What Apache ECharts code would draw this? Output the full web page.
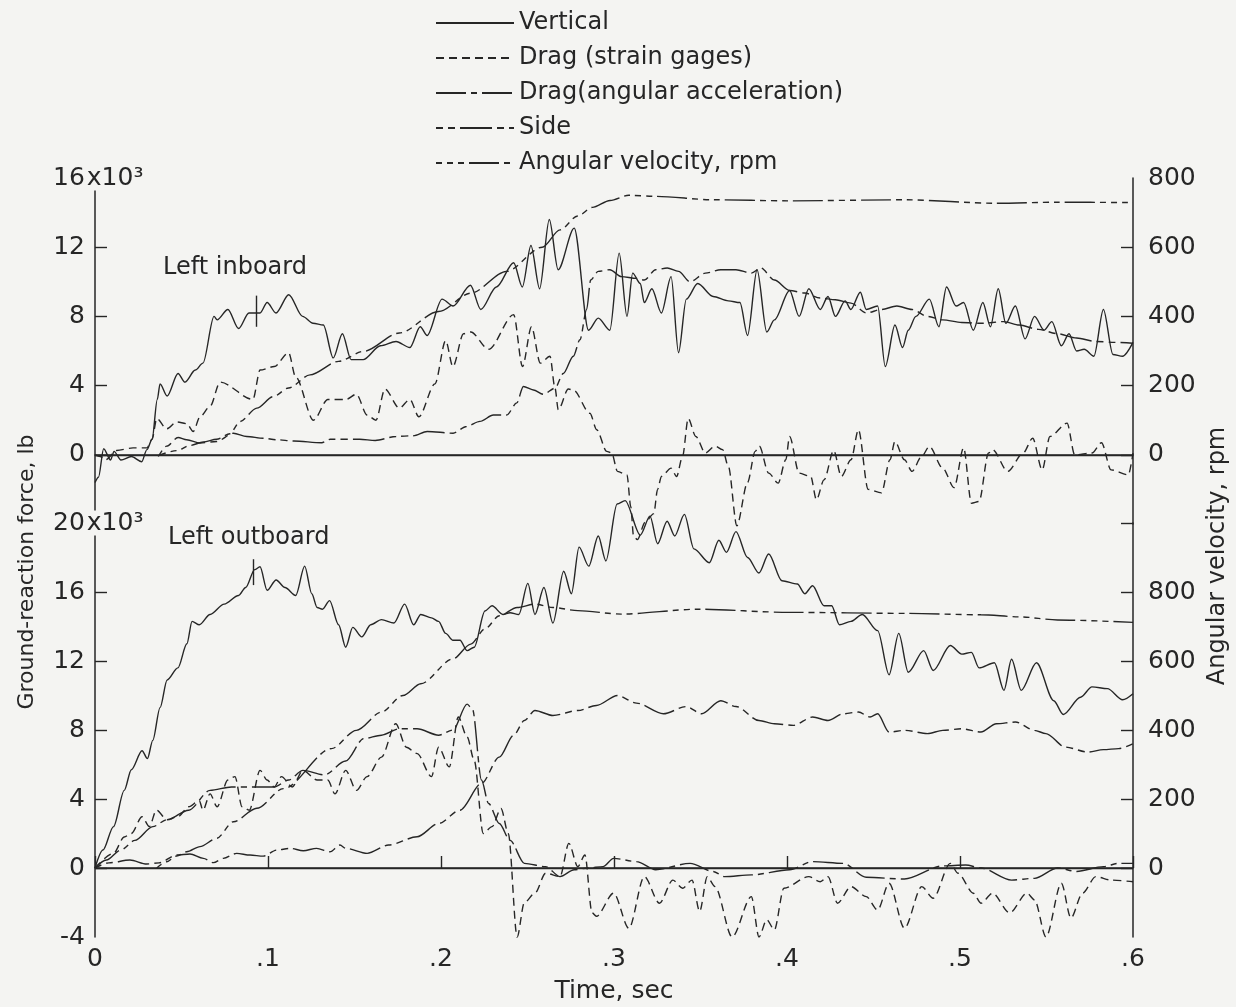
<!DOCTYPE html>
<html>
<head>
<meta charset="utf-8">
<script src="https://cdn.jsdelivr.net/npm/echarts@6/dist/echarts.min.js"></script>
<style>
  html, body { margin: 0; padding: 0; background: #f4f4f2; }
  #chart { width: 1236px; height: 1007px; }
</style>
</head>
<body>
<div id="chart"></div>
<script>
// ---- Tick labels -------------------------------------------------------
const timeTicks = [0, 0.1, 0.2, 0.3, 0.4, 0.5, 0.6];
const timeTickLabels = ['0', '.1', '.2', '.3', '.4', '.5', '.6'];
const inboardForceTicks = [0, 4, 8, 12, 16];
const inboardForceLabels = ['0', '4', '8', '12', '16x10³'];
const outboardForceTicks = [-4, 0, 4, 8, 12, 16, 20];
const outboardForceLabels = ['-4', '0', '4', '8', '12', '16', '20x10³'];
const rpmTicks = [0, 200, 400, 600, 800];
const rpmLabels = ['0', '200', '400', '600', '800'];

// ---- Left inboard wheel: [time s, force 10^3 lb] / [time s, rpm] --------
const inboardVertical = [
  [0.000,-1.6],[0.002,-1.3],[0.005,0.35],[0.009,-0.3],[0.011,0.2],[0.015,-0.3],[0.021,-0.1],
  [0.027,-0.4],[0.030,0.3],[0.033,0.9],[0.036,3.2],[0.0376,4.1],[0.0417,3.4],[0.048,4.7],
  [0.052,4.2],[0.058,4.9],[0.0624,5.3],[0.0688,8.0],[0.0706,7.8],[0.0768,8.4],[0.083,7.3],
  [0.089,8.2],[0.0954,8.2],[0.0995,8.8],[0.1046,8.2],[0.112,9.25],[0.120,8.0],[0.126,7.6],
  [0.132,7.5],[0.1377,5.6],[0.143,7.0],[0.148,5.5],[0.155,5.5],[0.165,6.3],[0.174,6.55],
  [0.182,6.2],[0.188,7.4],[0.192,6.9],[0.2006,9.0],[0.207,8.6],[0.217,9.8],[0.223,8.4],
  [0.232,9.7],[0.242,11.1],[0.247,9.7],[0.252,12.1],[0.257,9.6],[0.2626,13.6],[0.2677,10.7],
  [0.277,13.1],[0.2853,7.2],[0.2909,7.9],[0.2976,7.2],[0.303,11.66],[0.3075,8.0],[0.3108,10.5],
  [0.3152,9.9],[0.3175,8.8],[0.3219,9.6],[0.3274,8.2],[0.333,10.3],[0.3373,5.9],[0.3418,9.0],
  [0.3484,9.9],[0.3573,9.15],[0.3661,8.9],[0.3728,8.8],[0.3772,6.9],[0.3827,10.7],[0.3883,7.1],
  [0.3927,7.8],[0.4015,9.5],[0.407,8.0],[0.4126,9.6],[0.4192,8.4],[0.4237,9.15],[0.428,8.0],
  [0.4336,8.9],[0.4369,8.4],[0.4424,9.4],[0.4458,8.4],[0.4524,8.6],[0.4568,5.1],[0.4624,7.5],
  [0.4668,6.2],[0.4701,7.2],[0.4745,8.0],[0.4823,9.0],[0.4878,7.4],[0.4922,9.7],[0.4977,8.6],
  [0.5021,8.8],[0.5077,7.2],[0.5132,8.8],[0.5176,7.4],[0.5221,9.6],[0.5265,7.6],[0.532,8.6],
  [0.5376,6.7],[0.5431,8.0],[0.5486,7.2],[0.5531,7.7],[0.5586,6.3],[0.563,7.0],[0.5674,6.0],
  [0.5718,6.1],[0.5774,5.7],[0.5829,8.4],[0.5884,5.8],[0.594,5.7],[0.6,6.5]
];
const inboardDragGages = [
  [0.000,0.0],[0.003,-0.1],[0.006,-0.3],[0.0125,0.25],[0.022,0.4],[0.030,0.4],[0.033,0.9],
  [0.0357,2.1],[0.0414,1.5],[0.0472,1.9],[0.053,1.8],[0.0568,1.35],[0.0607,2.2],[0.0665,2.8],
  [0.0723,4.2],[0.0913,3.2],[0.0954,4.9],[0.1036,5.1],[0.1119,5.9],[0.116,4.5],[0.1263,2.0],
  [0.1346,3.2],[0.145,3.2],[0.1511,3.5],[0.1573,2.3],[0.1624,2.0],[0.1676,3.8],[0.1759,2.7],
  [0.182,3.2],[0.1872,2.2],[0.1965,4.1],[0.2027,6.6],[0.2069,5.1],[0.213,7.0],[0.2172,7.1],
  [0.2275,6.1],[0.242,8.1],[0.2471,5.1],[0.2523,7.4],[0.2574,5.3],[0.263,5.7],[0.2659,3.85],
  [0.2678,2.6],[0.2736,3.8],[0.2765,3.75],[0.2861,2.4],[0.29,1.45],[0.2958,0.2],[0.2987,0.1],
  [0.302,-0.96],[0.3075,-1.16],[0.3097,-3.0],[0.3113,-4.7],[0.3135,-4.9],[0.318,-3.9],
  [0.323,-3.4],[0.3252,-2.0],[0.3274,-1.25],[0.333,-0.77],[0.3362,-1.25],[0.3396,-0.1],
  [0.3429,2.1],[0.3473,1.06],[0.3528,0.1],[0.3584,0.5],[0.3628,0.3],[0.3661,-0.67],[0.371,-4.1],
  [0.3772,-1.6],[0.3816,0.2],[0.384,0.5],[0.3894,-1.06],[0.3949,-1.64],[0.3993,-0.29],
  [0.4015,1.06],[0.407,-1.06],[0.4137,-1.25],[0.417,-2.6],[0.4214,-1.45],[0.427,0.25],
  [0.4314,-1.25],[0.437,-0.29],[0.4413,1.45],[0.4469,-2.0],[0.4546,-2.2],[0.4595,-0.29],
  [0.4624,0.77],[0.4679,-0.29],[0.4723,-0.96],[0.4778,-0.1],[0.4823,0.48],[0.49,-0.77],
  [0.4966,-1.9],[0.5021,0.4],[0.5066,-2.8],[0.511,-2.7],[0.5165,0.1],[0.5188,0.3],[0.5276,-0.96],
  [0.5365,0.1],[0.542,0.96],[0.5475,-0.87],[0.552,1.06],[0.5619,1.83],[0.5663,0.0],[0.5763,0.1],
  [0.5818,0.7],[0.5873,-0.87],[0.5973,-1.16],[0.6,0.1]
];
const inboardSide = [
  [0.0366,-0.1],[0.0414,0.5],[0.048,1.0],[0.053,0.87],[0.0607,0.68],[0.0703,0.77],[0.08,1.25],
  [0.0877,1.06],[0.0973,0.96],[0.105,0.87],[0.115,0.8],[0.131,0.7],[0.136,0.9],[0.153,0.9],
  [0.162,0.83],[0.174,1.06],[0.184,1.1],[0.192,1.35],[0.207,1.25],[0.2148,1.64],[0.2225,1.93],
  [0.2303,2.3],[0.238,2.3],[0.2438,3.0],[0.2476,3.95],[0.2534,3.75],[0.2591,3.5],[0.2659,3.85],
  [0.2707,4.7],[0.2765,5.7],[0.2803,6.65],[0.2842,8.4],[0.2865,10.1],[0.2909,10.6],[0.2976,10.7],
  [0.3042,10.3],[0.313,10.2],[0.3175,10.1],[0.3241,10.7],[0.3308,10.8],[0.3373,10.6],[0.344,10.0],
  [0.3528,10.5],[0.3617,10.7],[0.3705,10.7],[0.3794,10.5],[0.3849,10.8],[0.3927,10.1],[0.4015,9.5],
  [0.4103,9.35],[0.4192,9.06],[0.428,8.96],[0.437,8.77],[0.4458,8.2],[0.4546,8.4],[0.4635,8.6],
  [0.4723,8.4],[0.4812,8.0],[0.49,7.8],[0.501,7.65],[0.5121,7.6],[0.5254,7.7],[0.5342,7.5],
  [0.5453,7.25],[0.5564,7.0],[0.5674,6.75],[0.5785,6.55],[0.5895,6.5],[0.6,6.45]
];
const inboardRpm = [
  [0.0376,0],[0.0472,12],[0.0549,27],[0.0626,37],[0.0703,45],[0.078,61],[0.0838,96],[0.0935,135],
  [0.103,168],[0.1119,193],[0.1243,231],[0.1408,270],[0.1553,299],[0.1759,352],[0.1986,414],
  [0.2172,467],[0.2378,530],[0.2585,600],[0.2688,650],[0.279,690],[0.2875,715],[0.2977,735],
  [0.3086,750],[0.3241,747],[0.3573,737],[0.4015,734],[0.4679,737],[0.521,727],[0.5564,730],[0.6,729]
];
// time-marker stroke drawn across the vertical-force trace
const inboardTimeMark = [[0.093, 7.4], [0.093, 9.2]];

// ---- Left outboard wheel --------------------------------------------------
const outboardVertical = [
  [0.000,0.0],[0.0046,1.04],[0.0107,2.4],[0.0169,4.5],[0.021,5.7],[0.0272,6.8],[0.0303,6.34],
  [0.0334,7.4],[0.0376,9.3],[0.0417,10.9],[0.0479,11.6],[0.0531,13.0],[0.0561,14.3],[0.0603,14.1],
  [0.0665,14.7],[0.0747,15.3],[0.083,15.8],[0.0871,16.26],[0.0923,17.3],[0.0954,17.46],[0.0995,16.1],
  [0.1047,16.7],[0.1098,16.26],[0.116,15.8],[0.1212,17.5],[0.1253,15.9],[0.1284,15.1],[0.1315,15.0],
  [0.1356,15.5],[0.1408,14.1],[0.1449,12.8],[0.149,13.95],[0.1542,13.4],[0.1594,14.1],[0.1656,14.4],
  [0.1728,14.2],[0.179,15.3],[0.1842,14.1],[0.1883,14.7],[0.1945,14.5],[0.1986,14.3],[0.2027,13.6],
  [0.2069,13.2],[0.211,13.2],[0.2151,12.6],[0.2192,12.8],[0.2254,14.9],[0.2295,15.2],[0.2358,14.7],
  [0.2399,14.8],[0.245,14.7],[0.2502,16.5],[0.2543,14.7],[0.2595,16.26],[0.2647,14.2],[0.2709,17.2],
  [0.2754,15.9],[0.2798,18.6],[0.2854,17.5],[0.2909,19.25],[0.2953,17.8],[0.3018,21.1],[0.3064,21.3],
  [0.3152,19.3],[0.3208,20.4],[0.3252,18.8],[0.3307,20.1],[0.3351,19.25],[0.3407,20.5],[0.3462,18.5],
  [0.3551,17.7],[0.3606,19.0],[0.365,18.3],[0.3705,19.5],[0.3772,18.0],[0.3838,17.1],[0.3894,18.2],
  [0.3971,16.65],[0.406,16.46],[0.4103,15.9],[0.4148,16.36],[0.4214,15.2],[0.4258,15.2],[0.4303,14.1],
  [0.437,14.3],[0.4435,14.7],[0.4524,13.76],[0.459,11.2],[0.4646,13.6],[0.4701,11.35],[0.479,12.6],
  [0.4845,11.45],[0.4944,12.9],[0.501,12.4],[0.5066,12.5],[0.511,11.6],[0.5199,11.9],[0.5254,10.3],
  [0.5298,12.1],[0.5354,10.3],[0.5442,11.9],[0.5542,9.7],[0.5597,8.9],[0.5697,9.9],[0.5763,10.5],
  [0.5852,10.4],[0.594,9.75],[0.6,10.1]
];
const outboardDragGages = [
  [0.000,0.0],[0.0107,0.85],[0.0169,1.8],[0.021,2.0],[0.0272,2.97],[0.0314,2.4],[0.0355,3.35],
  [0.0417,2.8],[0.0479,2.97],[0.0541,3.55],[0.0603,3.9],[0.0624,3.35],[0.0665,4.3],[0.0706,3.55],
  [0.0768,5.1],[0.0809,5.3],[0.085,3.55],[0.0892,3.35],[0.0954,5.66],[0.0995,5.1],[0.1036,4.7],
  [0.1078,5.3],[0.114,4.7],[0.1202,5.66],[0.1284,5.1],[0.1346,5.1],[0.1387,4.3],[0.1449,5.66],
  [0.1511,4.5],[0.1573,5.3],[0.1656,6.43],[0.1738,8.36],[0.18,7.0],[0.1862,6.63],[0.1945,5.3],
  [0.1986,7.0],[0.2048,5.86],[0.21,8.75],[0.2151,7.6],[0.2192,6.24],[0.2244,2.0],[0.2295,2.4],
  [0.2347,3.45],[0.2389,2.0],[0.244,-4.0],[0.2482,-2.0],[0.2543,-1.46],[0.2605,-0.3],[0.2688,-0.5],
  [0.2739,1.43],[0.2791,0.08],[0.2832,0.75],[0.2873,-2.6],[0.2898,-2.8],[0.2998,-1.46],[0.3086,-3.5],
  [0.3175,-0.5],[0.3263,-2.04],[0.334,-0.7],[0.3396,-1.17],[0.3451,-0.7],[0.3495,-2.52],[0.3539,-0.5],
  [0.3584,-1.08],[0.3683,-4.0],[0.3794,-1.66],[0.3838,-4.0],[0.3883,-3.0],[0.3927,-3.58],[0.3982,-1.17],
  [0.4126,-0.5],[0.4192,-0.8],[0.4237,-0.5],[0.4292,-2.04],[0.437,-1.08],[0.4458,-1.66],[0.4524,-2.43],
  [0.459,-0.88],[0.4679,-3.49],[0.4779,-1.08],[0.4845,-1.75],[0.4944,0.27],[0.4988,-0.3],[0.5077,-1.46],
  [0.5121,-2.04],[0.5188,-1.46],[0.5287,-2.6],[0.5387,-1.46],[0.5431,-1.85],[0.5497,-4.0],[0.5586,-0.88],
  [0.5641,-2.9],[0.5708,-1.46],[0.5785,-0.5],[0.5873,-0.7],[0.6,-0.8]
];
const outboardDragAccel = [
  [0.000,0.0],[0.0066,0.46],[0.0149,1.04],[0.0231,1.6],[0.0334,2.4],[0.0417,2.8],[0.0541,3.35],
  [0.0665,4.5],[0.0789,4.7],[0.0913,4.7],[0.1036,4.7],[0.1119,5.1],[0.1202,5.66],[0.1326,5.4],
  [0.1449,6.2],[0.1553,7.5],[0.1656,7.7],[0.1759,8.07],[0.1862,8.07],[0.1986,7.7],[0.2069,8.0],
  [0.2151,9.5],[0.2182,9.2],[0.2234,5.1],[0.2275,3.74],[0.2337,2.58],[0.2399,1.6],[0.2482,0.27],
  [0.2605,0.08],[0.2688,-0.5],[0.277,-0.1],[0.2853,0.0],[0.2936,0.08],[0.2998,0.56],[0.313,0.37],
  [0.3241,-0.1],[0.344,0.27],[0.3573,-0.2],[0.3639,-0.5],[0.3794,-0.4],[0.4015,-0.1],[0.4148,0.37],
  [0.4325,0.27],[0.4458,-0.54],[0.4679,-0.64],[0.49,0.12],[0.5033,0.17],[0.5121,0.0],[0.5298,-0.7],
  [0.5431,-0.6],[0.5564,0.0],[0.5674,-0.2],[0.5829,0.08],[0.5917,0.27],[0.6,0.27]
];
const outboardSide = [
  [0.000,0.0],[0.008,0.3],[0.0202,0.46],[0.0299,0.23],[0.037,0.3],[0.0472,0.75],[0.0549,0.81],
  [0.0626,0.56],[0.0684,0.31],[0.0742,0.56],[0.0819,0.85],[0.0896,0.75],[0.0973,0.69],[0.105,1.04],
  [0.1127,1.14],[0.1204,1.0],[0.1281,1.14],[0.1358,0.94],[0.1416,1.33],[0.1449,1.14],[0.1573,0.85],
  [0.1697,1.33],[0.1862,1.81],[0.1986,2.58],[0.211,3.35],[0.2234,4.9],[0.2337,6.43],[0.242,7.7],
  [0.2482,8.55],[0.2543,9.13],[0.2647,8.84],[0.2791,9.13],[0.2898,9.42],[0.302,10.0],[0.313,9.56],
  [0.3285,8.94],[0.3418,9.36],[0.3506,8.94],[0.3617,9.7],[0.3705,9.36],[0.3838,8.55],[0.3927,8.36],
  [0.4037,8.27],[0.4148,8.75],[0.4237,8.55],[0.4325,8.94],[0.4413,9.04],[0.448,8.75],[0.4524,8.94],
  [0.459,7.88],[0.4679,7.98],[0.4812,7.79],[0.49,7.98],[0.501,8.07],[0.5121,7.88],[0.521,8.36],
  [0.532,8.46],[0.5431,7.98],[0.5497,7.79],[0.5608,7.01],[0.574,6.72],[0.5829,6.86],[0.5917,6.92],[0.6,7.2]
];
const outboardRpm = [
  [0.0357,0],[0.0414,18],[0.0472,35],[0.053,47],[0.0607,62],[0.0703,86],[0.08,134],[0.0935,173],
  [0.1089,230],[0.1367,346],[0.1511,399],[0.1656,452],[0.178,500],[0.1883,534],[0.2069,606],
  [0.2172,649],[0.2254,693],[0.2337,731],[0.244,755],[0.2543,765],[0.2647,755],[0.2791,746],
  [0.3042,736],[0.3484,750],[0.4015,741],[0.4679,738],[0.5121,734],[0.5342,728],[0.5564,719],[0.6,712]
];
const outboardTimeMark = [[0.0915, 16.4], [0.0915, 17.9]];

// ---- Styling -------------------------------------------------------------
const INK = '#262626';
const PAPER = '#f4f4f2';
const FONT = '"DejaVu Sans", "Liberation Sans", sans-serif';
const NAMES = {
  vertical: 'Vertical',
  gages: 'Drag (strain gages)',
  accel: 'Drag(angular acceleration)',
  side: 'Side',
  rpm: 'Angular velocity, rpm'
};
const DASH = {
  vertical: 'solid',
  gages: [8, 5],
  accel: [30, 5, 6, 5],
  side: [7, 5, 7, 5, 32, 5],
  rpm: [6, 5, 6, 5, 6, 5, 30, 5]
};

function trace(key, data, xi, yi, extra) {
  return Object.assign({
    name: NAMES[key],
    type: 'line',
    xAxisIndex: xi,
    yAxisIndex: yi,
    data: data,
    symbol: 'none',
    smooth: 0.3,
    smoothMonotone: 'x',
    clip: false,
    silent: true,
    lineStyle: { color: INK, width: 1.4, type: DASH[key] }
  }, extra || {});
}

// zero reference line of a panel plus its short time-marker stroke
function panelMarks(mark) {
  return {
    silent: true,
    symbol: 'none',
    label: { show: false },
    lineStyle: { color: INK, width: 1.4, type: 'solid' },
    data: [
      { yAxis: 0 },
      [{ coord: mark[0] }, { coord: mark[1] }]
    ]
  };
}

function labelFrom(ticks, labels) {
  return function (v) {
    const i = ticks.findIndex(t => Math.abs(t - v) < 1e-6);
    return i < 0 ? '' : labels[i];
  };
}

// numbers right-aligned on a common edge; the "x10³" multiplier runs on past it
function forceLabel(lookup) {
  return function (v) {
    const s = lookup(v);
    if (s.indexOf('x') > 0) {
      const p = s.split('x');
      return '{m|' + p[0] + '}{u|x' + p[1] + '}';
    }
    return '{n|' + s + '}';
  };
}
const forceRich = {
  n: { width: 32, align: 'right', fontSize: 25, fontFamily: FONT, color: INK },
  m: { fontSize: 25, fontFamily: FONT, color: INK },
  u: { fontSize: 25, fontFamily: FONT, color: INK, padding: [0, 0, 0, 2], backgroundColor: PAPER }
};

const axisLineStyle = { show: true, lineStyle: { color: INK, width: 1.5 } };
const tickStyle = { show: true, inside: true, length: 12, lineStyle: { color: INK, width: 1.4 } };

const option = {
  backgroundColor: PAPER,
  animation: false,
  textStyle: { fontFamily: FONT, color: INK },
  legend: {
    orient: 'vertical',
    left: 430,
    top: 6,
    itemWidth: 78,
    itemHeight: 14,
    itemGap: 11,
    selectedMode: false,
    itemStyle: { opacity: 0 },
    data: [NAMES.vertical, NAMES.gages, NAMES.accel, NAMES.side, NAMES.rpm],
    textStyle: { fontFamily: FONT, fontSize: 24, color: INK, lineHeight: 24 }
  },
  grid: [
    { left: 95, right: 103, top: 178, height: 346 },
    { left: 95, right: 103, top: 523, height: 414 }
  ],
  xAxis: [
    {
      gridIndex: 0, type: 'value', min: 0, max: 0.6, interval: 0.1, position: 'top',
      axisLine: axisLineStyle, axisTick: { show: false }, axisLabel: { show: false },
      splitLine: { show: false }
    },
    {
      gridIndex: 1, type: 'value', min: 0, max: 0.6, interval: 0.1, position: 'bottom',
      axisLine: axisLineStyle, axisTick: tickStyle,
      axisLabel: {
        margin: 10, fontSize: 25, fontFamily: FONT, color: INK,
        formatter: labelFrom(timeTicks, timeTickLabels)
      },
      splitLine: { show: false },
      name: 'Time, sec', nameLocation: 'middle', nameGap: 42,
      nameTextStyle: { fontSize: 25, fontFamily: FONT, color: INK }
    }
  ],
  yAxis: [
    {
      gridIndex: 0, type: 'value', position: 'left', min: -4, max: 16, interval: 4,
      axisLine: axisLineStyle,
      axisTick: Object.assign({ customValues: [0, 4, 8, 12] }, tickStyle),
      axisLabel: {
        customValues: inboardForceTicks, align: 'left', margin: 42,
        fontSize: 25, fontFamily: FONT, color: INK,
        formatter: forceLabel(labelFrom(inboardForceTicks, inboardForceLabels)),
        rich: forceRich
      },
      splitLine: { show: false }
    },
    {
      gridIndex: 0, type: 'value', position: 'right', min: -200, max: 800, interval: 200,
      axisLine: axisLineStyle,
      axisTick: Object.assign({ customValues: [0, 200, 400, 600] }, tickStyle),
      axisLabel: {
        customValues: rpmTicks, margin: 15, fontSize: 25, fontFamily: FONT, color: INK,
        formatter: labelFrom(rpmTicks, rpmLabels)
      },
      splitLine: { show: false }
    },
    {
      gridIndex: 1, type: 'value', position: 'left', min: -4, max: 20, interval: 4,
      axisLine: axisLineStyle,
      axisTick: Object.assign({ customValues: [0, 4, 8, 12, 16] }, tickStyle),
      axisLabel: {
        customValues: outboardForceTicks, align: 'left', margin: 42,
        fontSize: 25, fontFamily: FONT, color: INK,
        formatter: forceLabel(labelFrom(outboardForceTicks, outboardForceLabels)),
        rich: forceRich
      },
      splitLine: { show: false }
    },
    {
      gridIndex: 1, type: 'value', position: 'right', min: -200, max: 1000, interval: 200,
      axisLine: axisLineStyle,
      axisTick: Object.assign({ customValues: [0, 200, 400, 600, 800, 1000] }, tickStyle),
      axisLabel: {
        customValues: rpmTicks, margin: 15, fontSize: 25, fontFamily: FONT, color: INK,
        formatter: labelFrom(rpmTicks, rpmLabels)
      },
      splitLine: { show: false }
    }
  ],
  series: [
    trace('vertical', inboardVertical, 0, 0, { markLine: panelMarks(inboardTimeMark) }),
    trace('gages', inboardDragGages, 0, 0),
    trace('side', inboardSide, 0, 0),
    trace('rpm', inboardRpm, 0, 1),
    trace('vertical', outboardVertical, 1, 2, { markLine: panelMarks(outboardTimeMark) }),
    trace('gages', outboardDragGages, 1, 2),
    trace('accel', outboardDragAccel, 1, 2),
    trace('side', outboardSide, 1, 2),
    trace('rpm', outboardRpm, 1, 3)
  ],
  graphic: [
    { type: 'text', left: 163, top: 256, silent: true,
      style: { text: 'Left inboard', fontSize: 24, fontFamily: FONT, fill: INK } },
    { type: 'text', left: 168, top: 526, silent: true,
      style: { text: 'Left outboard', fontSize: 24, fontFamily: FONT, fill: INK } },
    { type: 'text', x: 27, y: 572, rotation: Math.PI / 2, silent: true,
      style: { text: 'Ground-reaction force, lb', fontSize: 22, fontFamily: FONT, fill: INK,
               align: 'center', verticalAlign: 'middle' } },
    { type: 'text', x: 1218, y: 556, rotation: Math.PI / 2, silent: true,
      style: { text: 'Angular velocity, rpm', fontSize: 24, fontFamily: FONT, fill: INK,
               align: 'center', verticalAlign: 'middle' } }
  ]
};

const chart = echarts.init(document.getElementById('chart'), null, { renderer: 'canvas' });
chart.setOption(option);
</script>
</body>
</html>
